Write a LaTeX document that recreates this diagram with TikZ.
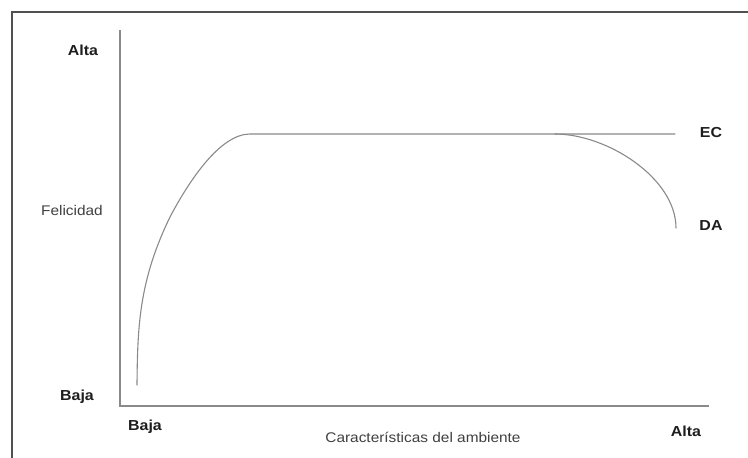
\documentclass[tikz,border=0pt]{standalone}
\usepackage{fontspec}
\setmainfont{Liberation Sans}[FakeStretch=1.1]
\definecolor{txt}{HTML}{1E1E1E}
\definecolor{ln}{HTML}{8A8A8A}
\definecolor{frm}{HTML}{505050}
\tikzset{
  lbl/.style={font=\fontsize{14.5}{17}\selectfont\bfseries, text=txt, inner sep=0pt},
  rlbl/.style={font=\fontsize{14}{17}\selectfont, text=txt!85!white, inner sep=0pt},
  axis/.style={draw=ln, line width=1.3pt},
  crv/.style={draw=ln, line width=1.1pt, line cap=round, line join=round},
}
\begin{document}
\begin{tikzpicture}[x=1pt,y=-1pt]
\useasboundingbox (0,0) rectangle (748,458);
\fill[white] (0,0) rectangle (748,458);
% frame
\draw[frm, line width=2pt] (12,470) -- (12,12) -- (760,12);
% axes
\coordinate (ytop) at (120,30);
\coordinate (O) at (120,406);
\coordinate (xend) at (709,406);
\draw[axis] (ytop) -- (O) -- (xend);
% curves
\coordinate (start) at (137,385);
\coordinate (mid) at (170,217);
\coordinate (plateau) at (250,134);
\coordinate (ecend) at (675,134);
\coordinate (split) at (555,134);
\coordinate (daend) at (676,228);
\draw[crv] (start) .. controls (137.5,325) and (139.4,280) .. (mid)
  .. controls (189,181) and (220,134) .. (plateau) -- (ecend);
\draw[crv] (split) .. controls (607,134) and (676,178) .. (daend);
% labels
\node[lbl] (altaY) at (83,50) {Alta};
\node[rlbl] (feli) at (72,210) {Felicidad};
\node[lbl] (bajaY) at (77,397) {Baja};
\node[lbl] (bajaX) at (145,427) {Baja};
\node[rlbl] (carac) at (423,437) {Características del ambiente};
\node[lbl] (altaX) at (686,431) {Alta};
\node[lbl] (ec) at (711,133) {EC};
\node[lbl] (da) at (711,226) {DA};
\end{tikzpicture}
\end{document}
